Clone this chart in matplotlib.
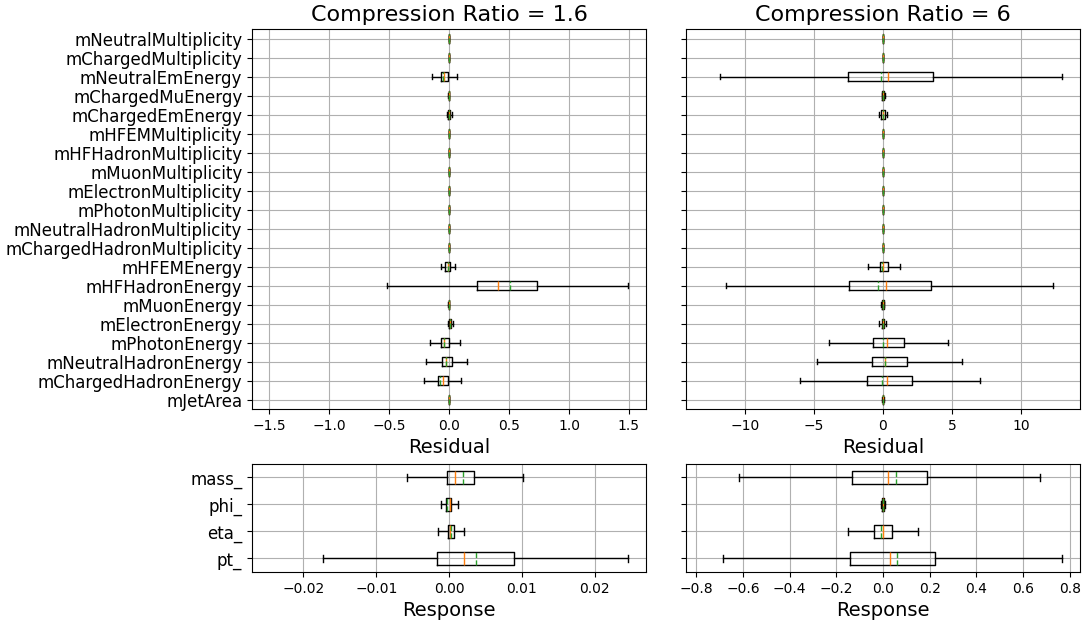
import matplotlib
matplotlib.use('Agg')
import matplotlib.pyplot as plt
import numpy as np

# box statistics, listed bottom -> top
# columns: whisker low, q1, median, q3, whisker high, mean
top_labels = ['mJetArea', 'mChargedHadronEnergy', 'mNeutralHadronEnergy', 'mPhotonEnergy',
              'mElectronEnergy', 'mMuonEnergy', 'mHFHadronEnergy', 'mHFEMEnergy',
              'mChargedHadronMultiplicity', 'mNeutralHadronMultiplicity', 'mPhotonMultiplicity',
              'mElectronMultiplicity', 'mMuonMultiplicity', 'mHFHadronMultiplicity',
              'mHFEMMultiplicity', 'mChargedEmEnergy', 'mChargedMuEnergy', 'mNeutralEmEnergy',
              'mChargedMultiplicity', 'mNeutralMultiplicity']

res_cr16 = [
    [-0.003, -0.001, 0.000, 0.001, 0.003, 0.000],
    [-0.207, -0.094, -0.047, -0.011, 0.100, -0.072],
    [-0.191, -0.061, -0.022, 0.025, 0.152, -0.024],
    [-0.158, -0.064, -0.039, -0.003, 0.091, -0.041],
    [-0.012, -0.001, 0.005, 0.014, 0.030, 0.006],
    [-0.006, -0.003, -0.001, 0.001, 0.004, -0.001],
    [-0.517, 0.235, 0.409, 0.735, 1.493, 0.511],
    [-0.069, -0.030, -0.006, 0.008, 0.050, -0.010],
    [-0.003, -0.001, 0.000, 0.001, 0.003, 0.000],
    [-0.003, -0.001, 0.000, 0.001, 0.003, 0.000],
    [-0.003, -0.001, 0.000, 0.001, 0.003, 0.000],
    [-0.003, -0.001, 0.000, 0.001, 0.003, 0.000],
    [-0.003, -0.001, 0.000, 0.001, 0.003, 0.000],
    [-0.003, -0.001, 0.000, 0.001, 0.003, 0.000],
    [-0.003, -0.001, 0.000, 0.001, 0.003, 0.000],
    [-0.019, -0.006, 0.001, 0.008, 0.028, 0.002],
    [-0.006, -0.003, -0.001, 0.000, 0.002, -0.002],
    [-0.138, -0.064, -0.039, -0.011, 0.069, -0.047],
    [-0.003, -0.001, 0.000, 0.001, 0.003, 0.000],
    [-0.003, -0.001, 0.000, 0.001, 0.003, 0.000],
]

res_cr6 = [
    [-0.05, -0.02, 0.00, 0.02, 0.05, 0.00],
    [-5.99, -1.13, 0.26, 2.11, 6.98, -0.07],
    [-4.77, -0.82, 0.12, 1.77, 5.68, 0.17],
    [-3.88, -0.70, 0.26, 1.49, 4.70, -0.02],
    [-0.26, -0.10, 0.00, 0.10, 0.24, -0.01],
    [-0.12, -0.05, 0.00, 0.05, 0.10, 0.00],
    [-11.32, -2.47, 0.24, 3.45, 12.33, -0.38],
    [-1.10, -0.24, 0.00, 0.34, 1.22, -0.05],
    [-0.03, -0.01, 0.00, 0.01, 0.03, 0.00],
    [-0.03, -0.01, 0.00, 0.01, 0.03, 0.00],
    [-0.03, -0.01, 0.00, 0.01, 0.03, 0.00],
    [-0.03, -0.01, 0.00, 0.01, 0.03, 0.00],
    [-0.03, -0.01, 0.00, 0.01, 0.03, 0.00],
    [-0.03, -0.01, 0.00, 0.01, 0.03, 0.00],
    [-0.03, -0.01, 0.00, 0.01, 0.03, 0.00],
    [-0.26, -0.12, 0.02, 0.17, 0.31, 0.02],
    [-0.10, -0.05, 0.01, 0.07, 0.12, 0.01],
    [-11.82, -2.54, 0.34, 3.645, 12.95, -0.14],
    [-0.03, -0.01, 0.00, 0.01, 0.03, 0.00],
    [-0.03, -0.01, 0.00, 0.01, 0.03, 0.00],
]

bottom_labels = ['pt_', 'eta_', 'phi_', 'mass_']

resp_cr16 = [
    [-0.01732, -0.0016, 0.0020, 0.00889, 0.02461, 0.00369],
    [-0.00155, -0.00014, 0.00014, 0.00068, 0.0020, 0.00027],
    [-0.0011, -0.0004, 0.0001, 0.00032, 0.00123, -0.0003],
    [-0.00579, -0.00027, 0.000775, 0.00337, 0.01016, 0.00196],
]

resp_cr6 = [
    [-0.684, -0.141, 0.0313, 0.2233, 0.767, 0.0583],
    [-0.149, -0.0384, 0.0, 0.037, 0.148, -0.0085],
    [-0.010, -0.004, 0.0, 0.004, 0.010, 0.0],
    [-0.617, -0.131, 0.0213, 0.189, 0.673, 0.0553],
]

ratios = ['1.6', '6']


def make_stats(rows, labels):
    """
    Turn rows of (lo, q1, med, q3, hi, mean) into dicts for Axes.bxp
    """
    stats = []
    for row, lab in zip(rows, labels):
        lo, q1, med, q3, hi, mean = row
        stats.append(dict(label=lab, whislo=lo, q1=q1, med=med, q3=q3,
                          whishi=hi, mean=mean, fliers=[]))
    return stats


def draw_panel(ax, rows, labels, xlabel, show_labels):
    ax.bxp(make_stats(rows, labels), orientation='horizontal',
           showmeans=True, meanline=True, showfliers=False)
    lim = 1.1 * np.max(np.abs(np.array(rows)[:, [0, 4]]))
    ax.set_xlim(-lim, lim)
    ax.grid(True)
    ax.set_xlabel(xlabel, fontsize=14)
    ax.tick_params(axis='y', labelsize=12)
    if not show_labels:
        ax.tick_params(labelleft=False)


fig = plt.figure(figsize=(10.83, 6.25), dpi=100)
gs = fig.add_gridspec(2, 2, height_ratios=[380, 108], left=0.2327, right=0.9972,
                      top=0.9536, bottom=0.0848, wspace=0.1015, hspace=0.2254)

for col, (res, resp, cr) in enumerate(zip([res_cr16, res_cr6], [resp_cr16, resp_cr6], ratios)):
    ax_top = fig.add_subplot(gs[0, col])
    ax_bot = fig.add_subplot(gs[1, col])
    draw_panel(ax_top, res, top_labels, 'Residual', col == 0)
    draw_panel(ax_bot, resp, bottom_labels, 'Response', col == 0)
    ax_top.set_title('Compression Ratio = ' + cr, fontsize=16)

fig.savefig('out.png', dpi=100)
